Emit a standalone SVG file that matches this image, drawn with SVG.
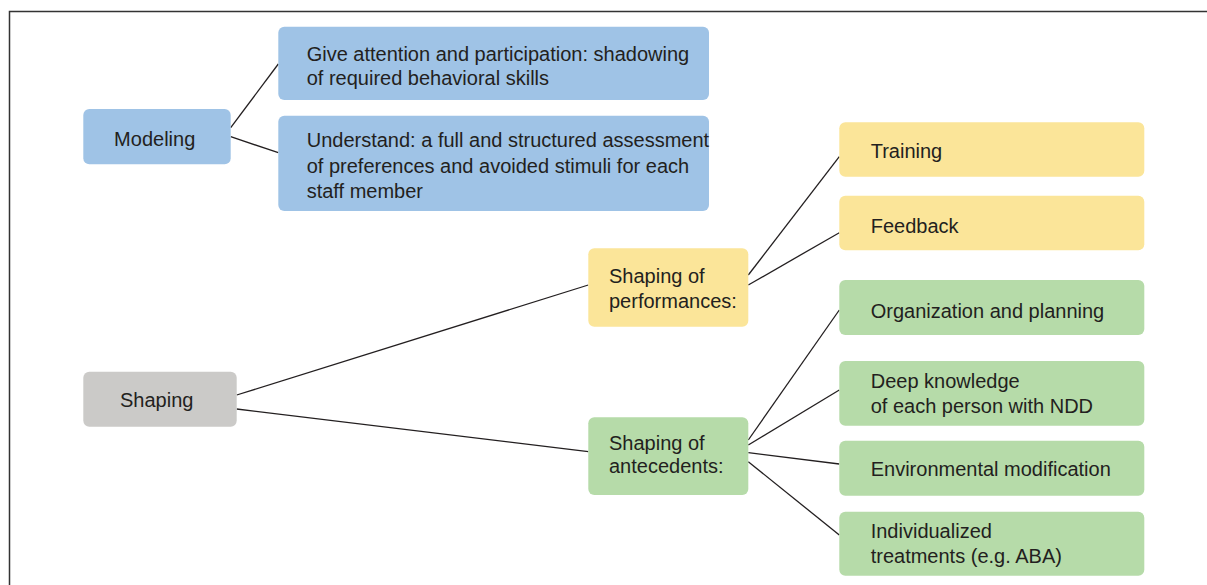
<svg xmlns="http://www.w3.org/2000/svg" width="1207" height="585" viewBox="0 0 1207 585">
<style>
text{font-family:"Liberation Sans",Arial,sans-serif;font-size:20px;fill:#231f20}
.blue{fill:#9fc3e6}
.yellow{fill:#fbe599}
.green{fill:#b6dba9}
.gray{fill:#cbcac8}
.conn line{stroke:#231f20;stroke-width:1.3}
</style>
<rect width="1207" height="585" fill="#fff"/>
<path d="M9.5,585 V11.5 H1207" fill="none" stroke="#333" stroke-width="1.5"/>
<g class="conn">
<line x1="230.7" y1="127.7" x2="278.3" y2="64"/>
<line x1="230.7" y1="136.7" x2="278.3" y2="152.7"/>
<line x1="236.7" y1="395" x2="588.3" y2="285"/>
<line x1="236.7" y1="409" x2="588.3" y2="451.7"/>
<line x1="748.3" y1="275" x2="839.3" y2="156.7"/>
<line x1="748.3" y1="285" x2="839.3" y2="232.7"/>
<line x1="748.3" y1="440" x2="839.3" y2="310"/>
<line x1="748.3" y1="445" x2="839.3" y2="390"/>
<line x1="748.3" y1="452.7" x2="839.3" y2="464"/>
<line x1="748.3" y1="461.7" x2="839.3" y2="535"/>
</g>
<g id="modeling"><rect class="blue" x="83.3" y="109" width="147.4" height="55.3" rx="6"/><text x="154.7" y="145.7" text-anchor="middle">Modeling</text></g>
<g id="give-attention"><rect class="blue" x="278.3" y="26.7" width="430.7" height="73.3" rx="6"/><text x="306.7" y="60.7">Give attention and participation: shadowing</text><text x="306.7" y="84.5">of required behavioral skills</text></g>
<g id="understand"><rect class="blue" x="278.3" y="115.7" width="430.7" height="95.3" rx="6"/><text x="306.7" y="147.3">Understand: a full and structured assessment</text><text x="306.7" y="172.8">of preferences and avoided stimuli for each</text><text x="306.7" y="198">staff member</text></g>
<g id="shaping"><rect class="gray" x="83.3" y="371.7" width="153.4" height="55" rx="6"/><text x="156.7" y="406.7" text-anchor="middle">Shaping</text></g>
<g id="shaping-performances"><rect class="yellow" x="588.3" y="248.3" width="160" height="78.4" rx="6"/><text x="609" y="283.3">Shaping of</text><text x="609" y="308.3">performances:</text></g>
<g id="shaping-antecedents"><rect class="green" x="588.3" y="417.3" width="160" height="77.7" rx="6"/><text x="609" y="450">Shaping of</text><text x="609" y="473.3">antecedents:</text></g>
<g id="training"><rect class="yellow" x="839.3" y="122.3" width="305" height="54.4" rx="6"/><text x="870.7" y="157.5">Training</text></g>
<g id="feedback"><rect class="yellow" x="839.3" y="195.7" width="305" height="54.6" rx="6"/><text x="870.7" y="233">Feedback</text></g>
<g id="organization"><rect class="green" x="839.3" y="280" width="305" height="55" rx="6"/><text x="870.7" y="318.3">Organization and planning</text></g>
<g id="deep-knowledge"><rect class="green" x="839.3" y="361" width="305" height="64.7" rx="6"/><text x="870.7" y="388.3">Deep knowledge</text><text x="870.7" y="413.3">of each person with NDD</text></g>
<g id="environmental"><rect class="green" x="839.3" y="440.7" width="305" height="55" rx="6"/><text x="870.7" y="476">Environmental modification</text></g>
<g id="individualized"><rect class="green" x="839.3" y="511.7" width="305" height="64" rx="6"/><text x="870.7" y="537.7">Individualized</text><text x="870.7" y="563.3">treatments (e.g. ABA)</text></g>
</svg>
